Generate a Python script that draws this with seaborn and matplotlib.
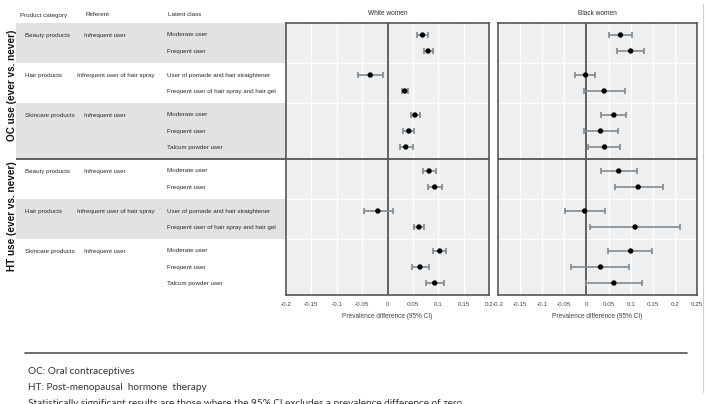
import numpy as np
import pandas as pd
import matplotlib
matplotlib.use('Agg')
import matplotlib.pyplot as plt
import seaborn as sns

# --- table content -------------------------------------------------------
exposures = ['OC use (ever vs. never)', 'HT use (ever vs. never)']
products = ['Beauty products', 'Hair products', 'Skincare products']
referents = ['Infrequent user', 'Infrequent user of hair spray', 'Infrequent user']
latent_classes = [
    ['Moderate user', 'Frequent user'],
    ['User of pomade and hair straightener', 'Frequent user of hair spray and hair gel'],
    ['Moderate user', 'Frequent user', 'Talcum powder user'],
]

# --- prevalence differences (95% CI), rows in table order ------------------
white_oc_pd = [0.069, 0.080, -0.034, 0.034, 0.054, 0.042, 0.036]
white_oc_lo = [0.059, 0.071, -0.059, 0.028, 0.046, 0.031, 0.025]
white_oc_hi = [0.079, 0.090, -0.008, 0.041, 0.064, 0.052, 0.050]
white_ht_pd = [0.082, 0.093, -0.019, 0.062, 0.103, 0.064, 0.093]
white_ht_lo = [0.069, 0.080, -0.046, 0.052, 0.089, 0.049, 0.075]
white_ht_hi = [0.095, 0.107, 0.010, 0.072, 0.116, 0.081, 0.111]

black_oc_pd = [0.077, 0.100, -0.002, 0.040, 0.062, 0.032, 0.041]
black_oc_lo = [0.051, 0.069, -0.025, -0.005, 0.033, -0.005, 0.004]
black_oc_hi = [0.104, 0.130, 0.020, 0.087, 0.090, 0.071, 0.077]
black_ht_pd = [0.073, 0.117, -0.004, 0.110, 0.100, 0.032, 0.062]
black_ht_lo = [0.032, 0.064, -0.048, 0.009, 0.049, -0.034, -0.002]
black_ht_hi = [0.115, 0.172, 0.041, 0.211, 0.149, 0.097, 0.126]

white_ticks = [-0.2, -0.15, -0.1, -0.05, 0, 0.05, 0.1, 0.15, 0.2]
black_ticks = [-0.2, -0.15, -0.1, -0.05, 0, 0.05, 0.1, 0.15, 0.2, 0.25]
tick_labels = ['-0.2', '-0.15', '-0.1', '-0.05', '0', '0.05', '0.1', '0.15', '0.2', '0.25']

notes = [
    'OC: Oral contraceptives',
    'HT: Post-menopausal  hormone  therapy',
    'Statistically significant results are those where the 95% CI excludes a prevalence difference of zero',
]

# --- build the row layout --------------------------------------------------
PAD = 0.75
rows, bands = [], []
y = 0.0
for exp in exposures:
    for g, prod in enumerate(products):
        top = y
        y += PAD
        for k, lc in enumerate(latent_classes[g]):
            rows.append(dict(exposure=exp, product=prod, referent=referents[g],
                             latent=lc, first=(k == 0), y=y))
            y += 1
        y += PAD - 1
        bands.append((top, y))
y_total = y
half = y_total / 2

df = pd.DataFrame(rows)
df_white = df.assign(pd=white_oc_pd + white_ht_pd, lo=white_oc_lo + white_ht_lo,
                     hi=white_oc_hi + white_ht_hi)
df_black = df.assign(pd=black_oc_pd + black_ht_pd, lo=black_oc_lo + black_ht_lo,
                     hi=black_oc_hi + black_ht_hi)

# --- figure ----------------------------------------------------------------
sns.set_style('white')
plt.rcParams['font.family'] = ['Liberation Sans', 'DejaVu Sans']

W, H = 705, 404
fig = plt.figure(figsize=(W / 100, H / 100), dpi=100)
top_px, bot_px = 23, 295
b = (H - bot_px) / H
h = (bot_px - top_px) / H

ax_t = fig.add_axes([16 / W, b, 270 / W, h])
ax_w = fig.add_axes([286 / W, b, 203 / W, h])
ax_b = fig.add_axes([498 / W, b, 199 / W, h])

DARK = '#555555'
TXT = '#2a2a2a'
FS = 4.5

# --- left table ------------------------------------------------------------
ax_t.set_xlim(16, 286)
ax_t.set_ylim(y_total, 0)
ax_t.axis('off')
for i, (t0, t1) in enumerate(bands):
    if i % 2 == 0:
        ax_t.axhspan(t0, t1, color='#e2e2e2', lw=0, zorder=0)
ax_t.axhline(half, color=DARK, lw=1.3, zorder=2)

hdr_y = -0.5
for x, lab in [(20, 'Product category'), (86, 'Referent'), (168, 'Latent class')]:
    ax_t.text(x, hdr_y, lab, fontsize=FS, color=TXT, va='center', ha='left', clip_on=False)

for _, r in df.iterrows():
    if r['first']:
        ax_t.text(25, r['y'], r['product'], fontsize=FS, color=TXT, va='center')
        rx = 77 if 'hair spray' in r['referent'] else 84
        ax_t.text(rx, r['y'], r['referent'], fontsize=FS, color=TXT, va='center')
    ax_t.text(167, r['y'], r['latent'], fontsize=FS, color=TXT, va='center')

for i, exp in enumerate(exposures):
    ax_t.text(12, half * i + half / 2 - 0.35 * (i + 1), exp, rotation=90, fontsize=7.2,
              fontweight='bold', color='#111111', ha='center', va='center', clip_on=False)


# --- forest panels ---------------------------------------------------------
def draw_panel(ax, data, xlim, ticks, title):
    ax.set_facecolor('#efefef')
    for t in ticks:
        ax.axvline(t, color='white', lw=1.0, zorder=0.5)
    for t0, t1 in bands:
        if 0 < t1 < y_total and abs(t1 - half) > 1e-6:
            ax.axhline(t1, color='white', lw=1.0, zorder=0.5)
    ax.axvline(0, color=DARK, lw=1.3, zorder=1)
    ax.axhline(half, color=DARK, lw=1.3, zorder=1)
    ax.errorbar(data['pd'], data['y'],
                xerr=[data['pd'] - data['lo'], data['hi'] - data['pd']],
                fmt='none', ecolor='#7d8b95', elinewidth=1.2, capsize=2.3,
                capthick=1.2, zorder=3)
    sns.scatterplot(data=data, x='pd', y='y', color='black', s=15,
                    edgecolor='none', ax=ax, zorder=4, legend=False)
    ax.set_xlim(*xlim)
    ax.set_ylim(y_total, 0)
    ax.set_xticks(ticks)
    ax.set_xticklabels(tick_labels[:len(ticks)], fontsize=4.5, color='#444444')
    ax.set_yticks([])
    ax.tick_params(axis='x', direction='out', length=3, width=0.6, color=DARK, pad=2)
    ax.set_xlabel('Prevalence difference (95% CI)', fontsize=4.7, color='#444444', labelpad=4)
    ax.set_ylabel('')
    ax.set_title(title, fontsize=4.7, color=TXT, pad=6)
    for s in ax.spines.values():
        s.set_visible(True)
        s.set_color(DARK)
        s.set_linewidth(1.2)


draw_panel(ax_w, df_white, (-0.2, 0.2), white_ticks, 'White women')
draw_panel(ax_b, df_black, (-0.2, 0.25), black_ticks, 'Black women')

# --- footnotes -------------------------------------------------------------
fig.add_artist(plt.Line2D([25 / W, 687 / W], [1 - 353 / H, 1 - 353 / H],
                          color='#555555', lw=1.2))
fig.add_artist(plt.Line2D([703 / W, 703 / W], [1 - 4 / H, 1 - 392 / H],
                          color='#cfcfcf', lw=0.8))
for i, line in enumerate(notes):
    fig.text(28 / W, 1 - (372 + 15.5 * i) / H, line, fontsize=7.2, color='#333333',
             family=['Lato', 'DejaVu Sans'], va='center', ha='left')

plt.savefig('out.png', dpi=100)
